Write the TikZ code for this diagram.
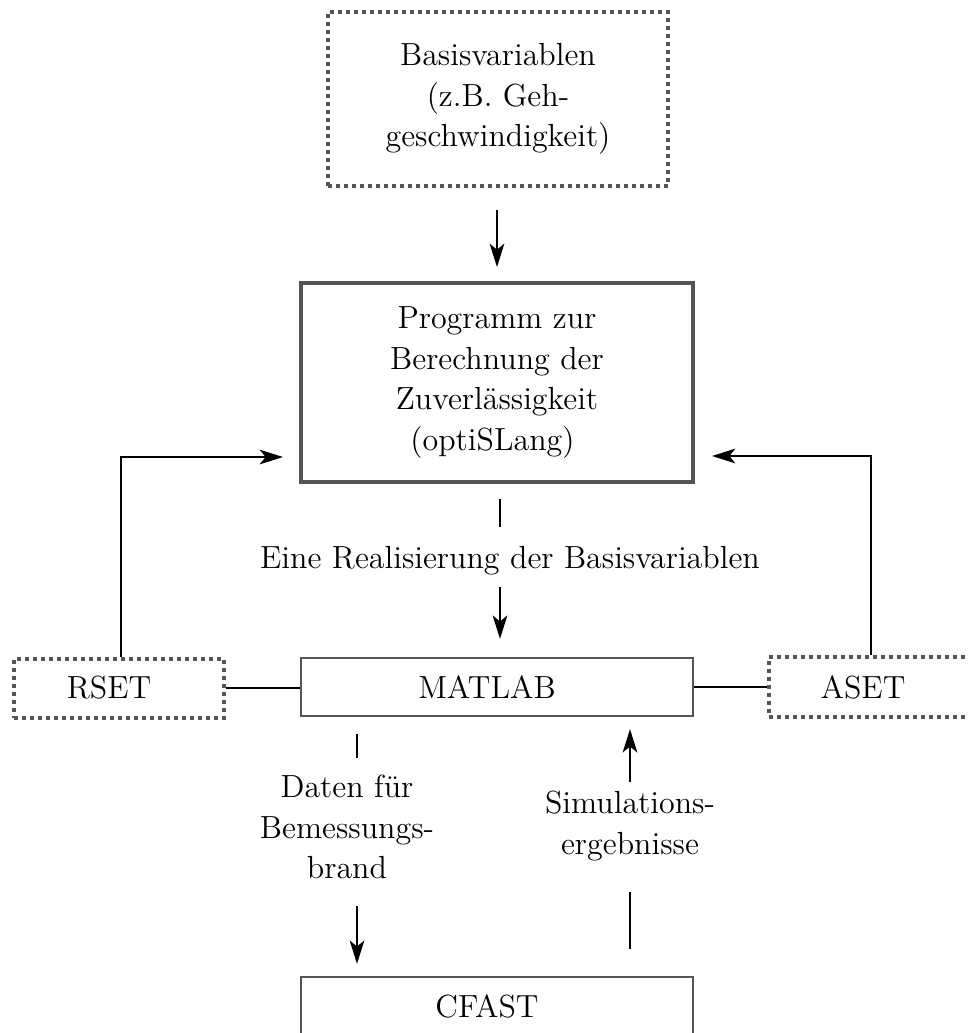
\documentclass[tikz,border=0pt]{standalone}
\usetikzlibrary{arrows.meta,calc}
\font\lmtw="[lmroman12-regular]" at 9.6pt
\definecolor{boxgray}{HTML}{555555}
\tikzset{
  txt/.style={font={\fontsize{9.6}{12.2}\selectfont\lmtw}, align=center, inner sep=0pt},
  dotbox/.style={draw=boxgray, line width=1.2pt, dash pattern=on 1.2pt off 1.2pt, txt},
  thickbox/.style={draw=boxgray, line width=1.2pt, txt},
  thinbox/.style={draw=boxgray, line width=0.7pt, txt},
  conn/.style={line width=0.6pt, black},
  arr/.style={conn, -{Stealth[length=7pt, width=4.4pt, inset=1.8pt]}},
}
\newcommand{\padr}[1]{#1\hspace*{6pt}}
\begin{document}
\begin{tikzpicture}[x=0.3pt, y=-0.3pt]
\useasboundingbox (0,0) rectangle (969,1033);
\node[dotbox, minimum width=102pt, minimum height=52.2pt] (basis) at (498,99)
  {Basisvariablen\\(z.B. Geh-\\geschwindigkeit)};
\node[thickbox, minimum width=117.6pt, minimum height=59.7pt] (prog) at (497,382.5)
  {Programm zur\\Berechnung der\\Zuverl\"assigkeit\\(optiSLang)\hspace*{2.7pt}};
\node[thinbox, minimum width=117.6pt, minimum height=17.4pt] (matlab) at (497,687) {\padr{MATLAB}};
\node[dotbox, minimum width=63pt, minimum height=17.7pt] (rset) at (119,688) {\padr{RSET}};
\node[dotbox, minimum width=62.4pt, minimum height=18pt] (aset) at (873,687) {\padr{ASET}};
\node[thinbox, minimum width=117.6pt, minimum height=17.4pt] (cfast) at (497,1006) {\padr{CFAST}};
\node[txt] (lab1) at (510,561) {Eine Realisierung der Basisvariablen};
\node[txt] (lab2) at (347,827) {Daten f\"ur\\Bemessungs-\\brand};
\node[txt] (lab3) at (630,826) {Simulations-\\ergebnisse};
% basis -> prog
\draw[arr] (basis.south) ++(-1,22) -- ++(0,57);
% prog -> matlab
\draw[conn] (prog.south) ++(3,15) -- ++(0,28);
\draw[arr] (matlab.north) ++(3,-70) -- ++(0,52);
% rset / aset feedback
\draw[arr] ($(rset.north)+(2,0)$) |- ($(prog.west)+(-16,74.5)$);
\draw[arr] ($(aset.north)+(-2,0)$) |- ($(prog.east)+(17,73.5)$);
\draw[conn] (rset.east) -- (rset.east -| matlab.west);
\draw[conn] (matlab.east) -- (matlab.east -| aset.west);
% matlab -> cfast
\draw[conn] (matlab.south) ++(-140,17) -- ++(0,24);
\draw[arr] (cfast.north) ++(-140,-70) -- ++(0,58);
% cfast -> matlab
\draw[conn] (cfast.north) ++(133,-27) -- ++(0,-57);
\draw[arr] (matlab.south) ++(133,65) -- ++(0,-53);
\end{tikzpicture}
\end{document}
